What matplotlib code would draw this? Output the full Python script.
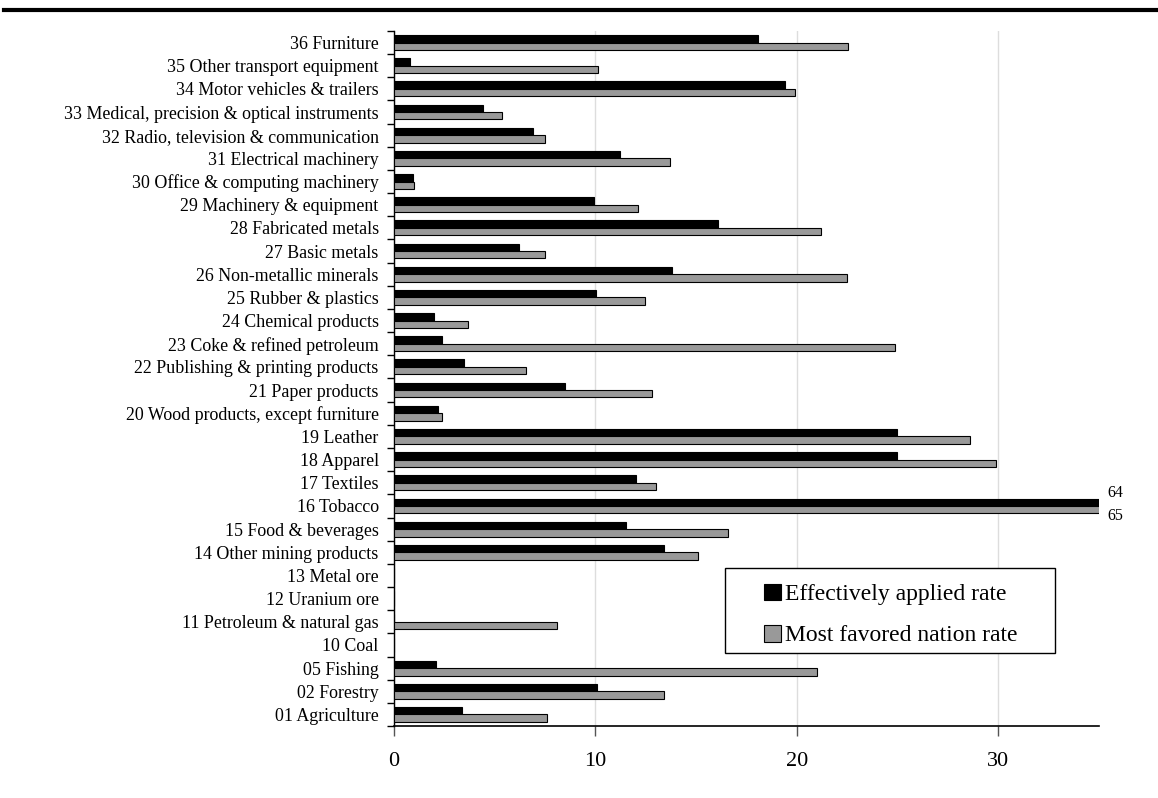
import matplotlib.pyplot as plt
import numpy as np
from matplotlib.lines import Line2D
from matplotlib.patches import Patch, Rectangle

plt.rcParams["font.family"] = ["Liberation Serif", "DejaVu Serif"]

# industries, bottom to top
SECTORS = [
    "01 Agriculture",
    "02 Forestry",
    "05 Fishing",
    "10 Coal",
    "11 Petroleum & natural gas",
    "12 Uranium ore",
    "13 Metal ore",
    "14 Other mining products",
    "15 Food & beverages",
    "16 Tobacco",
    "17 Textiles",
    "18 Apparel",
    "19 Leather",
    "20 Wood products, except furniture",
    "21 Paper products",
    "22 Publishing & printing products",
    "23 Coke & refined petroleum",
    "24 Chemical products",
    "25 Rubber & plastics",
    "26 Non-metallic minerals",
    "27 Basic metals",
    "28 Fabricated metals",
    "29 Machinery & equipment",
    "30 Office & computing machinery",
    "31 Electrical machinery",
    "32 Radio, television & communication",
    "33 Medical, precision & optical instruments",
    "34 Motor vehicles & trailers",
    "35 Other transport equipment",
    "36 Furniture",
]

EFFECTIVE = [3.4, 10.1, 2.1, 0, 0, 0, 0, 13.4, 11.5, 64, 12.0, 25.0, 25.0, 2.2,
             8.5, 3.5, 2.4, 2.0, 10.05, 13.8, 6.2, 16.1, 9.95, 0.95, 11.25,
             6.9, 4.4, 19.4, 0.8, 18.1]
MFN = [7.6, 13.4, 21.0, 0, 8.1, 0, 0, 15.1, 16.6, 65, 13.0, 29.9, 28.6, 2.4,
       12.8, 6.55, 24.9, 3.7, 12.45, 22.5, 7.5, 21.2, 12.1, 1.0, 13.7,
       7.5, 5.35, 19.9, 10.15, 22.55]

XMAX = 35
GRAY = "#999999"
W, H = 1158, 798


def main() -> None:
    fig = plt.figure(figsize=(W / 100, H / 100), dpi=100)
    ax = fig.add_axes([0.3402, 0.0902, 0.6086, 0.871])

    y = np.arange(len(SECTORS))
    h = 0.32
    ax.barh(y + h / 2, EFFECTIVE, height=h, color="black",
            edgecolor="black", linewidth=0.8, zorder=3)
    ax.barh(y - h / 2, MFN, height=h, color=GRAY,
            edgecolor="black", linewidth=0.8, zorder=3)

    ax.set_xlim(0, XMAX)
    ax.set_ylim(-0.5, len(SECTORS) - 0.5)

    # category ticks at the boundaries, labels at the centres
    ax.set_yticks(np.arange(len(SECTORS) + 1) - 0.5)
    ax.set_yticklabels([])
    ax.set_yticks(y, minor=True)
    ax.set_yticklabels(SECTORS, minor=True, fontsize=12.9)
    ax.tick_params(axis="y", which="major", length=5, width=1, direction="out")
    ax.tick_params(axis="y", which="minor", length=0, pad=11)

    ax.set_xticks([0, 10, 20, 30])
    ax.tick_params(axis="x", length=7, width=1, pad=12, labelsize=16,
                   color="#555555")
    ax.xaxis.grid(True, color="#dddddd", linewidth=1, zorder=0)
    ax.set_axisbelow(True)

    for side in ("top", "right"):
        ax.spines[side].set_visible(False)
    ax.spines["left"].set_linewidth(1)
    ax.spines["bottom"].set_linewidth(1.2)

    # values beyond the axis range
    for i, (e, m) in enumerate(zip(EFFECTIVE, MFN)):
        if e > XMAX or m > XMAX:
            ax.text(XMAX + 0.45, i + 0.55, f"{e:g}", fontsize=11.5,
                    va="center", ha="left", clip_on=False)
            ax.text(XMAX + 0.45, i - 0.42, f"{m:g}", fontsize=11.5,
                    va="center", ha="left", clip_on=False)

    # legend box drawn separately so its padding can match
    fig.add_artist(Rectangle((725 / W, 1 - 653 / H), 330 / W, 85 / H,
                             transform=fig.transFigure, facecolor="white",
                             edgecolor="black", linewidth=1, zorder=4))
    handles = [
        Patch(facecolor="black", edgecolor="black", linewidth=0.8),
        Patch(facecolor=GRAY, edgecolor="black", linewidth=0.8),
    ]
    leg = fig.legend(
        handles,
        ["Effectively applied rate", "Most favored nation rate"],
        loc="center left",
        bbox_to_anchor=(764 / W, 1 - 615 / H),
        borderaxespad=0,
        borderpad=0,
        fontsize=17,
        frameon=False,
        handlelength=0.72,
        handleheight=0.72,
        handletextpad=0.15,
        labelspacing=0.82,
    )
    leg.set_zorder(5)

    # heavy rule across the top
    fig.add_artist(Line2D([4 / W, 1], [1 - 10 / H] * 2,
                          color="black", linewidth=3, transform=fig.transFigure))

    fig.savefig("out.png", dpi=100)
    plt.close(fig)


if __name__ == "__main__":
    main()
